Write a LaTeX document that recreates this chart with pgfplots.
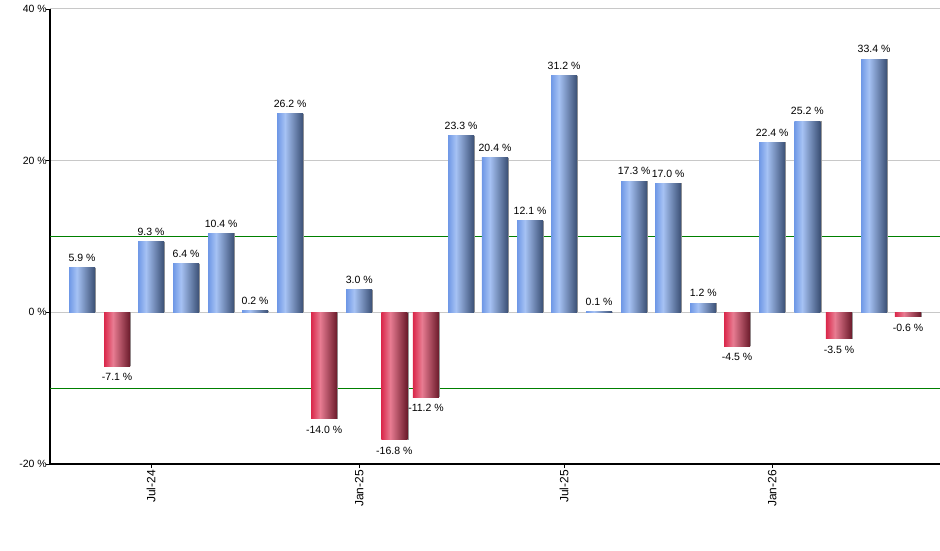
\documentclass[border=0pt]{standalone}
\usepackage{fontspec}
\setmainfont{Liberation Sans}
\usepackage{pgfplots}
\pgfplotsset{compat=1.18}

\definecolor{bluA}{HTML}{6F98E6}
\definecolor{bluB}{HTML}{A6C2F4}
\definecolor{bluC}{HTML}{3A4F74}
\definecolor{redA}{HTML}{DA284B}
\definecolor{redB}{HTML}{E87C92}
\definecolor{redC}{HTML}{6A1A2A}
\definecolor{gridgray}{HTML}{C8C8C8}
\definecolor{limgreen}{HTML}{008000}
\definecolor{shadowgray}{HTML}{9A9A9A}

% left edge of bar = 25bp, right edge = 75bp
\pgfdeclarehorizontalshading{bluebar}{100bp}{color(0bp)=(bluA); color(25bp)=(bluA); color(40bp)=(bluB); color(75bp)=(bluC); color(100bp)=(bluC)}
\pgfdeclarehorizontalshading{redbar}{100bp}{color(0bp)=(redA); color(25bp)=(redA); color(42bp)=(redB); color(75bp)=(redC); color(100bp)=(redC)}

\pgfplotsset{
    shadowbar/.style={ybar, bar width=23, bar shift=1.2pt, draw=none, fill=shadowgray, forget plot},
    upbar/.style={ybar, bar width=23, bar shift=0pt, draw=none, shade, shading=bluebar,
        nodes near coords, point meta=explicit symbolic,
        every node near coord/.append style={anchor=south, yshift=4pt}},
    downbar/.style={ybar, bar width=23, bar shift=0pt, draw=none, shade, shading=redbar,
        nodes near coords, point meta=explicit symbolic,
        every node near coord/.append style={anchor=north, yshift=-5pt}},
}
% one \addplot per bar, so that each bar gets its own shading
\newcommand{\upbar}[2]{%
    \addplot[shadowbar] coordinates {(#1,#2)};
    \addplot[upbar] coordinates {(#1,#2) [#2 \%]};}
\newcommand{\downbar}[2]{%
    \addplot[shadowbar] coordinates {(#1,#2)};
    \addplot[downbar] coordinates {(#1,#2) [#2 \%]};}

\begin{document}
\begin{tikzpicture}
\useasboundingbox (0,0) rectangle (940pt,550pt);
% x = days since 1 May 2024
\begin{axis}[
    at={(50pt,86pt)}, anchor=south west,
    scale only axis,
    width=890pt, height=455pt,
    xmin=-28.3, xmax=758.3,
    ymin=-20, ymax=40,
    axis x line*=bottom, axis y line*=left,
    axis line style={black, line width=1.2pt},
    xtick={61,245,426,610},
    xticklabels={Jul-24,Jan-25,Jul-25,Jan-26},
    ytick={-20,0,20,40},
    yticklabels={-20 \%,0 \%,20 \%,40 \%},
    tick align=outside,
    major tick length=4pt,
    tick style={black, line width=0.8pt},
    ymajorgrids,
    major grid style={gridgray, line width=1pt},
    extra y ticks={-10,10},
    extra y tick labels={},
    extra y tick style={grid=major, major grid style={limgreen, line width=1pt}, major tick length=0pt},
    y tick label style={font=\fontsize{10.5}{12}\selectfont, inner sep=1pt, xshift=2pt},
    x tick label style={font=\fontsize{12}{14}\selectfont, rotate=90, anchor=east, inner sep=2pt},
    every node near coord/.append style={font=\fontsize{10.5}{12}\selectfont, text=black, inner sep=2pt},
]
\upbar{0}{5.9}
\downbar{31}{-7.1}
\upbar{61}{9.3}
\upbar{92}{6.4}
\upbar{123}{10.4}
\upbar{153}{0.2}
\upbar{184}{26.2}
\downbar{214}{-14.0}
\upbar{245}{3.0}
\downbar{276}{-16.8}
\downbar{304}{-11.2}
\upbar{335}{23.3}
\upbar{365}{20.4}
\upbar{396}{12.1}
\upbar{426}{31.2}
\upbar{457}{0.1}
\upbar{488}{17.3}
\upbar{518}{17.0}
\upbar{549}{1.2}
\downbar{579}{-4.5}
\upbar{610}{22.4}
\upbar{641}{25.2}
\downbar{669}{-3.5}
\upbar{700}{33.4}
\downbar{730}{-0.6}
\end{axis}
\end{tikzpicture}
\end{document}
